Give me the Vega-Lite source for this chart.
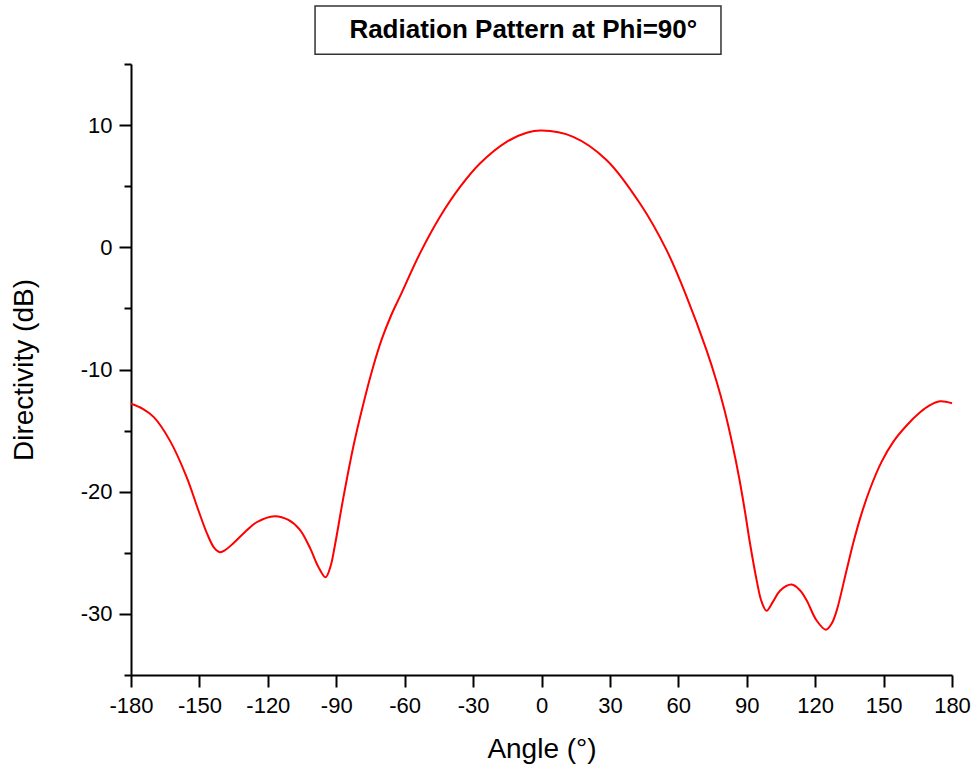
{
  "$schema": "https://vega.github.io/schema/vega-lite/v6.json",
  "width": 821,
  "height": 611,
  "autosize": "none",
  "padding": {"left": 131, "top": 64, "right": 26, "bottom": 96},
  "background": "white",
  "config": {"view": {"stroke": null}, "font": "Liberation Sans"},
  "layer": [
    {
      "data": {
        "values": [
          {"angle": -180, "dB": -12.8},
          {"angle": -175, "dB": -13.2},
          {"angle": -170, "dB": -13.9},
          {"angle": -163, "dB": -15.8},
          {"angle": -155.6, "dB": -18.8},
          {"angle": -150.5, "dB": -21.5},
          {"angle": -146.5, "dB": -23.5},
          {"angle": -143.5, "dB": -24.6},
          {"angle": -141, "dB": -24.95},
          {"angle": -138.5, "dB": -24.75},
          {"angle": -135, "dB": -24.2},
          {"angle": -130, "dB": -23.3},
          {"angle": -124.9, "dB": -22.5},
          {"angle": -117, "dB": -22.0},
          {"angle": -111, "dB": -22.3},
          {"angle": -106, "dB": -23.1},
          {"angle": -101.5, "dB": -24.6},
          {"angle": -98, "dB": -26.1},
          {"angle": -94.7, "dB": -27.0},
          {"angle": -92.5, "dB": -26.1},
          {"angle": -90.6, "dB": -24.4},
          {"angle": -86.9, "dB": -20.5},
          {"angle": -82.5, "dB": -16.3},
          {"angle": -78.1, "dB": -12.8},
          {"angle": -74, "dB": -9.9},
          {"angle": -70, "dB": -7.5},
          {"angle": -66, "dB": -5.6},
          {"angle": -62, "dB": -4.0},
          {"angle": -53.3, "dB": -0.5},
          {"angle": -44.5, "dB": 2.5},
          {"angle": -35.7, "dB": 4.94},
          {"angle": -27, "dB": 6.86},
          {"angle": -15.3, "dB": 8.63},
          {"angle": -6.5, "dB": 9.37},
          {"angle": 0, "dB": 9.55},
          {"angle": 13.9, "dB": 9.04},
          {"angle": 28.6, "dB": 7.13},
          {"angle": 43.2, "dB": 3.58},
          {"angle": 54.9, "dB": -0.25},
          {"angle": 63.7, "dB": -4.07},
          {"angle": 72.4, "dB": -8.44},
          {"angle": 76.8, "dB": -11.0},
          {"angle": 80.2, "dB": -13.3},
          {"angle": 83.8, "dB": -16.2},
          {"angle": 86.7, "dB": -18.9},
          {"angle": 89.2, "dB": -21.6},
          {"angle": 91.4, "dB": -24.2},
          {"angle": 94.4, "dB": -27.3},
          {"angle": 96.5, "dB": -29.0},
          {"angle": 98.7, "dB": -29.75},
          {"angle": 101.5, "dB": -29.0},
          {"angle": 104.6, "dB": -28.1},
          {"angle": 109.7, "dB": -27.6},
          {"angle": 113.5, "dB": -28.1},
          {"angle": 116.3, "dB": -28.9},
          {"angle": 120.5, "dB": -30.5},
          {"angle": 124.7, "dB": -31.3},
          {"angle": 127.2, "dB": -30.8},
          {"angle": 129.4, "dB": -29.75},
          {"angle": 133.8, "dB": -26.4},
          {"angle": 136.7, "dB": -24.2},
          {"angle": 140, "dB": -22.0},
          {"angle": 144, "dB": -19.8},
          {"angle": 149, "dB": -17.6},
          {"angle": 154.3, "dB": -15.9},
          {"angle": 160, "dB": -14.6},
          {"angle": 166, "dB": -13.5},
          {"angle": 170, "dB": -12.95},
          {"angle": 174.7, "dB": -12.6},
          {"angle": 180, "dB": -12.76}
        ]
      },
      "mark": {"type": "line", "color": "#ff0000", "strokeWidth": 2, "interpolate": "catmull-rom"},
      "encoding": {
        "x": {
          "field": "angle",
          "type": "quantitative",
          "scale": {"domain": [-180, 180], "nice": false, "zero": false},
          "axis": {
            "title": "Angle (°)",
            "titleFont": "Liberation Sans",
            "titleFontSize": 28,
            "titleFontWeight": "normal",
            "titleColor": "black",
            "titlePadding": 19,
            "values": [-180, -165, -150, -135, -120, -105, -90, -75, -60, -45, -30, -15, 0, 15, 30, 45, 60, 75, 90, 105, 120, 135, 150, 165, 180],
            "labelExpr": "datum.value % 30 === 0 ? toString(datum.value) : ''",
            "labelFont": "Liberation Sans",
            "labelFontSize": 22,
            "labelColor": "black",
            "labelPadding": 8,
            "labelOverlap": false,
            "labelFlush": false,
            "tickSize": {"condition": {"test": "datum.value % 30 === 0", "value": 12}, "value": 7},
            "tickWidth": 2,
            "tickColor": "black",
            "domainColor": "black",
            "domainWidth": 2,
            "grid": false
          }
        },
        "y": {
          "field": "dB",
          "type": "quantitative",
          "scale": {"domain": [-35, 15], "nice": false, "zero": false},
          "axis": {
            "title": "Directivity (dB)",
            "titleFont": "Liberation Sans",
            "titleFontSize": 28,
            "titleFontWeight": "normal",
            "titleColor": "black",
            "titlePadding": 42,
            "values": [-35, -30, -25, -20, -15, -10, -5, 0, 5, 10, 15],
            "labelExpr": "datum.value % 10 === 0 ? toString(datum.value) : ''",
            "labelFont": "Liberation Sans",
            "labelFontSize": 22,
            "labelColor": "black",
            "labelPadding": 7,
            "labelOverlap": false,
            "labelFlush": false,
            "tickSize": {"condition": {"test": "datum.value % 10 === 0", "value": 12}, "value": 7},
            "tickWidth": 2,
            "tickColor": "black",
            "domainColor": "black",
            "domainWidth": 2,
            "grid": false
          }
        }
      }
    },
    {
      "data": {"values": [{"label": "Radiation Pattern at Phi=90°"}]},
      "mark": {"type": "rect", "fill": null, "fillOpacity": 0, "stroke": "#333333", "strokeWidth": 1.5},
      "encoding": {
        "x": {"datum": -99.3, "type": "quantitative"},
        "x2": {"datum": 78.7},
        "y": {"datum": 19.75, "type": "quantitative"},
        "y2": {"datum": 15.8}
      }
    },
    {
      "data": {"values": [{"label": "Radiation Pattern at Phi=90°"}]},
      "mark": {"type": "text", "font": "Liberation Sans", "fontSize": 26, "fontWeight": "bold", "color": "black", "align": "center", "baseline": "middle"},
      "encoding": {
        "x": {"datum": -8, "type": "quantitative"},
        "y": {"datum": 17.75, "type": "quantitative"},
        "text": {"field": "label"}
      }
    }
  ]
}
